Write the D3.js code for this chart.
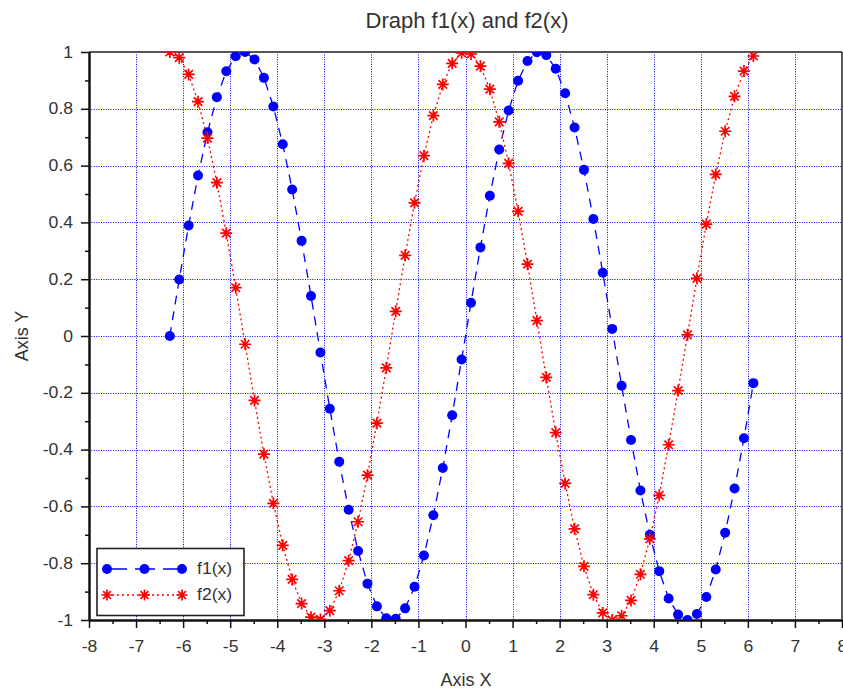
<!DOCTYPE html>
<html>
<head>
<meta charset="utf-8">
<script src="https://cdn.jsdelivr.net/npm/d3@7"></script>
<style>
  html, body { margin: 0; padding: 0; background: #fff; }
  svg { display: block; font-family: "Liberation Sans", Arial, sans-serif; }
</style>
</head>
<body>
<svg id="chart" width="843" height="691"></svg>
<script>
// Sample positions on [-2π, 2π) with step 0.2
const xs = [-6.283,-6.083,-5.883,-5.683,-5.483,-5.283,-5.083,-4.883,-4.683,-4.483,
            -4.283,-4.083,-3.883,-3.683,-3.483,-3.283,-3.083,-2.883,-2.683,-2.483,
            -2.283,-2.083,-1.883,-1.683,-1.483,-1.283,-1.083,-0.883,-0.683,-0.483,
            -0.283,-0.083,0.117,0.317,0.517,0.717,0.917,1.117,1.317,1.517,
            1.717,1.917,2.117,2.317,2.517,2.717,2.917,3.117,3.317,3.517,
            3.717,3.917,4.117,4.317,4.517,4.717,4.917,5.117,5.317,5.517,
            5.717,5.917,6.117];

// f1(x)
const f1 = [0.000,0.199,0.389,0.565,0.717,0.841,0.932,0.985,1.000,0.974,
            0.909,0.808,0.675,0.516,0.335,0.141,-0.058,-0.256,-0.443,-0.612,
            -0.757,-0.872,-0.952,-0.994,-0.996,-0.959,-0.883,-0.773,-0.631,-0.465,
            -0.279,-0.083,0.117,0.312,0.494,0.657,0.794,0.899,0.968,0.999,
            0.989,0.941,0.855,0.734,0.585,0.412,0.223,0.025,-0.175,-0.366,
            -0.544,-0.700,-0.828,-0.924,-0.981,-1.000,-0.979,-0.919,-0.822,-0.693,
            -0.537,-0.360,-0.166];

// f2(x)
const f2 = [1.000,0.980,0.921,0.825,0.697,0.540,0.362,0.170,-0.029,-0.227,
            -0.416,-0.589,-0.737,-0.857,-0.942,-0.990,-0.998,-0.967,-0.897,-0.791,
            -0.654,-0.490,-0.307,-0.112,0.087,0.284,0.469,0.635,0.776,0.886,
            0.960,0.997,0.993,0.950,0.869,0.754,0.608,0.439,0.253,0.054,
            -0.146,-0.340,-0.519,-0.679,-0.811,-0.911,-0.975,-1.000,-0.985,-0.931,
            -0.839,-0.714,-0.561,-0.383,-0.192,0.004,0.203,0.394,0.569,0.721,
            0.844,0.933,0.986];

const xTicks = [-8,-7,-6,-5,-4,-3,-2,-1,0,1,2,3,4,5,6,7,8];
const xMinor = [-7.5,-6.5,-5.5,-4.5,-3.5,-2.5,-1.5,-0.5,0.5,1.5,2.5,3.5,4.5,5.5,6.5,7.5];
const yTicks = [-1,-0.8,-0.6,-0.4,-0.2,0,0.2,0.4,0.6,0.8,1];
const yMinor = [-0.9,-0.7,-0.5,-0.3,-0.1,0.1,0.3,0.5,0.7,0.9];
const seriesNames = ["f1(x)", "f2(x)"];

const svg = d3.select("#chart");
const L = 89, R = 842, T = 52, B = 620;
const x = d3.scaleLinear().domain([-8, 8]).range([L, R]);
const y = d3.scaleLinear().domain([-1, 1]).range([B, T]);
const fmt = d => d3.format("~g")(d).replace("\u2212", "-");
const WIDEN = "scale(1.1,1)"; // slightly wider lettering for labels

// Title and axis titles
svg.append("text").attr("x", 467).attr("y", 28).attr("text-anchor", "middle")
  .attr("font-size", 22).attr("fill", "#333").text("Draph f1(x) and f2(x)");
svg.append("text").attr("x", 466).attr("y", 686).attr("text-anchor", "middle")
  .attr("font-size", 18).attr("fill", "#333").text("Axis X");
svg.append("text").attr("transform", `translate(28,${(T + B) / 2}) rotate(-90)`)
  .attr("text-anchor", "middle").attr("font-size", 18).attr("fill", "#333").text("Axis Y");

// Grid
const grid = svg.append("g").attr("stroke", "#0000ff").attr("stroke-width", 1)
  .attr("stroke-dasharray", "1,1.4").attr("fill", "none");
grid.selectAll("line.v").data(xTicks.slice(1, -1)).join("line")
  .attr("x1", d => Math.round(x(d)) + 0.5).attr("x2", d => Math.round(x(d)) + 0.5)
  .attr("y1", T).attr("y2", B);
grid.selectAll("line.h").data(yTicks.slice(1, -1)).join("line")
  .attr("y1", d => Math.round(y(d)) + 0.5).attr("y2", d => Math.round(y(d)) + 0.5)
  .attr("x1", L).attr("x2", R);

// Frame (top and right)
svg.append("line").attr("x1", L).attr("x2", R).attr("y1", T).attr("y2", T)
  .attr("stroke", "#555").attr("stroke-width", 2);
svg.append("line").attr("x1", R).attr("x2", R).attr("y1", T).attr("y2", B)
  .attr("stroke", "#222").attr("stroke-width", 1.5);

// Axes
const styleAxis = g => {
  g.select(".domain").attr("stroke", "#111").attr("stroke-width", 2);
  g.selectAll(".tick line").attr("stroke", "#111").attr("stroke-width", 1.5);
  g.selectAll(".tick text").attr("fill", "#333").attr("font-size", 16)
    .attr("font-family", "Liberation Sans, Arial, sans-serif")
    .attr("transform", WIDEN);
};
svg.append("g").attr("transform", `translate(0,${B})`)
  .call(d3.axisBottom(x).tickValues(xMinor).tickSize(4).tickSizeOuter(0).tickFormat(""))
  .call(styleAxis);
svg.append("g").attr("transform", `translate(0,${B})`)
  .call(d3.axisBottom(x).tickValues(xTicks).tickSize(8).tickSizeOuter(0).tickPadding(12.5)
    .tickFormat(fmt))
  .call(styleAxis);
svg.append("g").attr("transform", `translate(${L},0)`)
  .call(d3.axisLeft(y).tickValues(yMinor).tickSize(4).tickSizeOuter(0).tickFormat(""))
  .call(styleAxis);
svg.append("g").attr("transform", `translate(${L},0)`)
  .call(d3.axisLeft(y).tickValues(yTicks).tickSize(8).tickSizeOuter(0).tickPadding(6.5)
    .tickFormat(fmt))
  .call(styleAxis);

// Plot clip
svg.append("clipPath").attr("id", "plotclip").append("rect")
  .attr("x", L).attr("y", T).attr("width", R - L).attr("height", B - T);
const plot = svg.append("g").attr("clip-path", "url(#plotclip)");

const line = d3.line().x(d => x(d[0])).y(d => y(d[1]));
const d1 = xs.map((v, i) => [v, f1[i]]);
const d2 = xs.map((v, i) => [v, f2[i]]);

const star = r => {
  const a = r * Math.SQRT1_2;
  return `M${-r},0L${r},0M0,${-r}L0,${r}M${-a},${-a}L${a},${a}M${-a},${a}L${a},${-a}`;
};

// f1: blue dashed line with filled circles
plot.append("path").datum(d1).attr("d", line).attr("fill", "none")
  .attr("stroke", "#0000ff").attr("stroke-width", 1.3).attr("stroke-dasharray", "9,7");
plot.selectAll("circle.f1").data(d1).join("circle")
  .attr("cx", d => x(d[0])).attr("cy", d => y(d[1])).attr("r", 5).attr("fill", "#0000ff");

// f2: red dotted line with asterisks
plot.append("path").datum(d2).attr("d", line).attr("fill", "none")
  .attr("stroke", "#ff0000").attr("stroke-width", 1.3).attr("stroke-dasharray", "2,3");
plot.selectAll("path.f2").data(d2).join("path")
  .attr("transform", d => `translate(${x(d[0])},${y(d[1])})`)
  .attr("d", star(6)).attr("stroke", "#ff0000").attr("stroke-width", 1.7).attr("fill", "none");

// Legend
const lg = svg.append("g");
lg.append("rect").attr("x", 97).attr("y", 548.5).attr("width", 147).attr("height", 67)
  .attr("fill", "#fff").attr("stroke", "#222").attr("stroke-width", 1.6);
const rows = [
  { name: seriesNames[0], y: 569, color: "#0000ff", dash: "20,8", kind: "circle" },
  { name: seriesNames[1], y: 595, color: "#ff0000", dash: "2,3", kind: "star" }
];
rows.forEach(r => {
  lg.append("line").attr("x1", 107).attr("x2", 182).attr("y1", r.y).attr("y2", r.y)
    .attr("stroke", r.color).attr("stroke-width", 1.3).attr("stroke-dasharray", r.dash);
  [107, 144.5, 182].forEach(px => {
    if (r.kind === "circle") {
      lg.append("circle").attr("cx", px).attr("cy", r.y).attr("r", 5).attr("fill", r.color);
    } else {
      lg.append("path").attr("transform", `translate(${px},${r.y})`).attr("d", star(5.5))
        .attr("stroke", r.color).attr("stroke-width", 1.7).attr("fill", "none");
    }
  });
  lg.append("text").attr("transform", `translate(197,${r.y + 5}) ${WIDEN}`)
    .attr("font-size", 16).attr("fill", "#333").text(r.name);
});
</script>
</body>
</html>
